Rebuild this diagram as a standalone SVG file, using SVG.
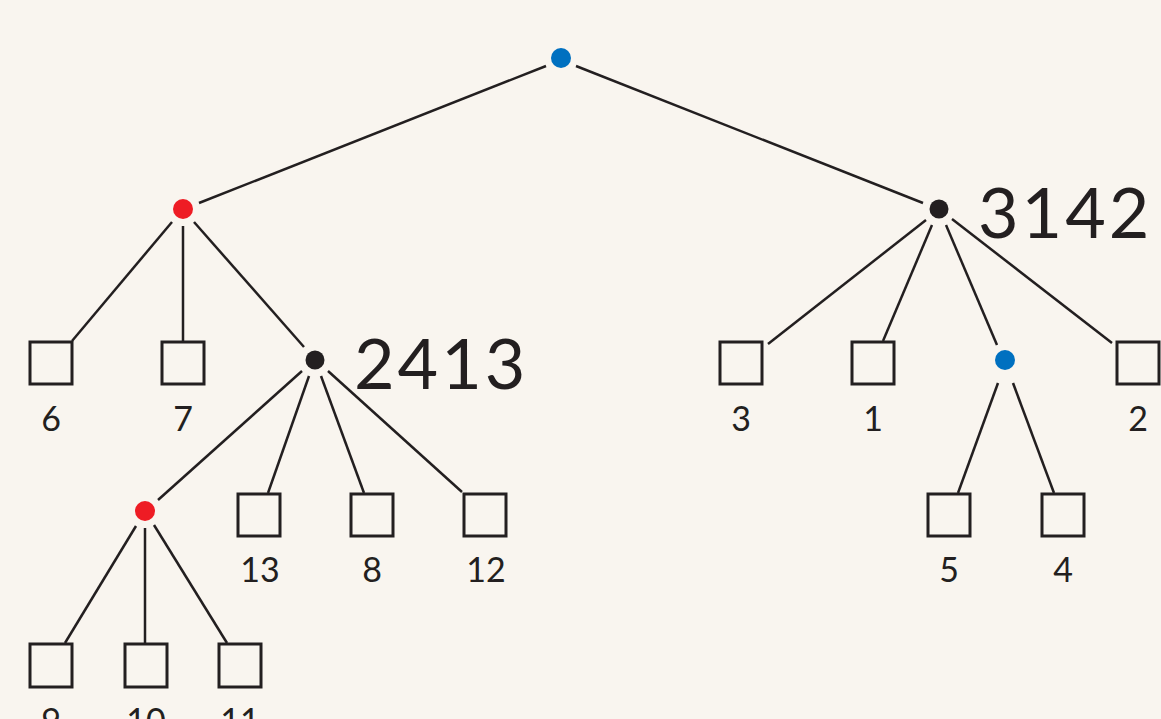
<svg xmlns="http://www.w3.org/2000/svg" width="1161" height="719" viewBox="0 0 1161 719">
<style>
.bg{fill:#f9f5ef}
.e{stroke:#231f20;stroke-width:2.5;fill:none}
.leaf rect{fill:none;stroke:#231f20;stroke-width:3}
.lbl{font-family:Lato,"Liberation Sans",sans-serif;font-size:34px;fill:#231f20;text-anchor:middle}
.big{font-family:Lato,"Liberation Sans",sans-serif;font-size:70px;fill:#231f20;letter-spacing:3px}
.blue{fill:#0070c0}.red{fill:#ee1c24}.blk{fill:#231f20}
</style>
<rect class="bg" width="1161" height="719"/>
<g id="connectors" class="e">
<line x1="546" y1="66" x2="199" y2="203"/>
<line x1="576" y1="66" x2="923" y2="203"/>
<line x1="172" y1="222" x2="72" y2="341"/>
<line x1="183" y1="226" x2="183" y2="341"/>
<line x1="194" y1="222" x2="304" y2="347"/>
<line x1="302" y1="371" x2="158" y2="500"/>
<line x1="309" y1="376" x2="268" y2="493"/>
<line x1="321" y1="376" x2="364" y2="493"/>
<line x1="328" y1="371" x2="462" y2="492"/>
<line x1="136" y1="526" x2="65" y2="643"/>
<line x1="145" y1="528" x2="145" y2="643"/>
<line x1="154" y1="525" x2="227" y2="643"/>
<line x1="926" y1="220" x2="768" y2="344"/>
<line x1="932" y1="225" x2="883" y2="341"/>
<line x1="946" y1="225" x2="997" y2="345"/>
<line x1="952" y1="219" x2="1112" y2="343"/>
<line x1="998" y1="383" x2="958" y2="493"/>
<line x1="1013" y1="383" x2="1054" y2="493"/>
</g>
<g id="root"><circle class="blue" cx="561" cy="58" r="10"/></g>
<g id="n-red1"><circle class="red" cx="183" cy="209" r="10"/></g>
<g id="n-3142"><circle class="blk" cx="939" cy="209" r="9.5"/><text class="big" x="978" y="238">3142</text></g>
<g id="n-2413"><circle class="blk" cx="315" cy="360" r="9.5"/><text class="big" x="354" y="389">2413</text></g>
<g id="n-blue2"><circle class="blue" cx="1005" cy="360" r="10"/></g>
<g id="n-red2"><circle class="red" cx="145" cy="511" r="10"/></g>
<g id="leaf6" class="leaf"><rect x="30" y="342" width="42" height="42"/><text class="lbl" x="51" y="431">6</text></g>
<g id="leaf7" class="leaf"><rect x="162" y="342" width="42" height="42"/><text class="lbl" x="183" y="431">7</text></g>
<g id="leaf3" class="leaf"><rect x="720" y="342" width="42" height="42"/><text class="lbl" x="741" y="431">3</text></g>
<g id="leaf1" class="leaf"><rect x="852" y="342" width="42" height="42"/><text class="lbl" x="873" y="431">1</text></g>
<g id="leaf2" class="leaf"><rect x="1117" y="342" width="42" height="42"/><text class="lbl" x="1138" y="431">2</text></g>
<g id="leaf13" class="leaf"><rect x="238" y="494" width="42" height="42"/><text class="lbl" x="260" y="582">13</text></g>
<g id="leaf8" class="leaf"><rect x="351" y="494" width="42" height="42"/><text class="lbl" x="372" y="582">8</text></g>
<g id="leaf12" class="leaf"><rect x="464" y="494" width="42" height="42"/><text class="lbl" x="486" y="582">12</text></g>
<g id="leaf5" class="leaf"><rect x="928" y="494" width="42" height="42"/><text class="lbl" x="949" y="582">5</text></g>
<g id="leaf4" class="leaf"><rect x="1042" y="494" width="42" height="42"/><text class="lbl" x="1063" y="582">4</text></g>
<g id="leaf9" class="leaf"><rect x="30" y="644" width="42" height="43"/><text class="lbl" x="51" y="733">9</text></g>
<g id="leaf10" class="leaf"><rect x="125" y="644" width="42" height="43"/><text class="lbl" x="146" y="733">10</text></g>
<g id="leaf11" class="leaf"><rect x="219" y="644" width="42" height="43"/><text class="lbl" x="240" y="733">11</text></g>
</svg>
